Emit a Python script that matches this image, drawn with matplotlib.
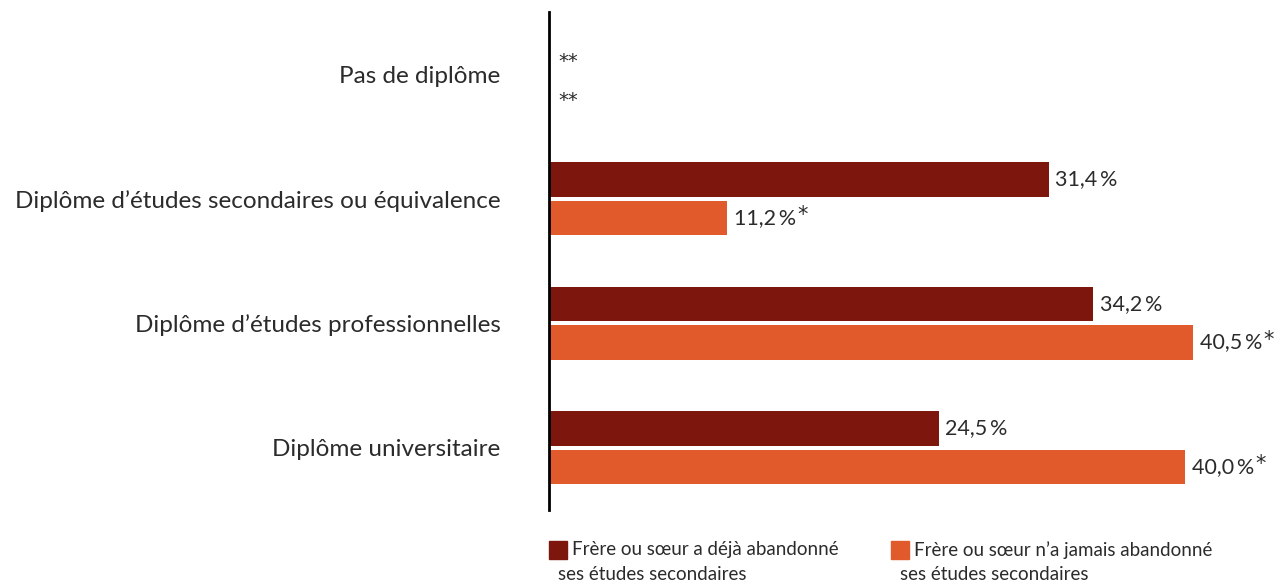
import matplotlib
matplotlib.use("Agg")
import matplotlib.pyplot as plt
from matplotlib.patches import Rectangle

categories = ["Pas de diplôme",
              "Diplôme d\u2019études secondaires ou équivalence",
              "Diplôme d\u2019études professionnelles",
              "Diplôme universitaire"]
deja = [None, 31.4, 34.2, 24.5]
jamais = [None, 11.2, 40.5, 40.0]
deja_labels = ["**", "31,4\u2009%", "34,2\u2009%", "24,5\u2009%"]
jamais_labels = ["**", "11,2\u2009%", "40,5\u2009%", "40,0\u2009%"]
jamais_star = [False, True, True, True]
legend_labels = ["Frère ou sœur a déjà abandonné\nses études secondaires",
                 "Frère ou sœur n\u2019a jamais abandonné\nses études secondaires"]

c_dark = "#7D160D"
c_orange = "#E05A2B"
txt = "#2b2b2b"
plt.rcParams['font.family'] = ['Lato', 'DejaVu Sans']

fig = plt.figure(figsize=(12.78, 5.84), dpi=100)
ax = fig.add_axes([549/1278, 1-510/584, (1265-549)/1278, 498/584])
ax.set_xlim(0, 45)
ax.set_ylim(3.5, -0.5)

off = 0.155
h = 0.28
for i, cat in enumerate(categories):
    if deja[i] is not None:
        ax.barh(i - off, deja[i], height=h, color=c_dark)
        ax.text(deja[i] + 0.4, i - off, deja_labels[i], va='center', ha='left',
                fontsize=15.5, color=txt)
    else:
        ax.annotate(deja_labels[i], xy=(0.6, i - off), xytext=(0, -5), textcoords='offset points',
                    va='center', ha='left', fontsize=14, color=txt, family='DejaVu Sans')
    if jamais[i] is not None:
        ax.barh(i + off, jamais[i], height=h, color=c_orange)
        t = ax.text(jamais[i] + 0.4, i + off, jamais_labels[i], va='center', ha='left',
                    fontsize=15.5, color=txt)
        if jamais_star[i]:
            ax.annotate("*", xy=(1, 0.5), xycoords=t, xytext=(1, 2), textcoords='offset points',
                        va='center', ha='left', fontsize=15, color=txt, family='DejaVu Sans')
    else:
        ax.annotate(jamais_labels[i], xy=(0.6, i + off), xytext=(0, -5), textcoords='offset points',
                    va='center', ha='left', fontsize=14, color=txt, family='DejaVu Sans')

ax.set_yticks(range(len(categories)))
ax.set_yticklabels(categories, fontsize=17.5, color=txt)
ax.tick_params(axis='y', length=0, pad=35)
ax.set_xticks([])
for s in ['top', 'right', 'bottom']:
    ax.spines[s].set_visible(False)
ax.spines['left'].set_linewidth(2)
ax.spines['left'].set_color('black')

# legend
for (x0, col, lab) in [(549, c_dark, legend_labels[0]), (891, c_orange, legend_labels[1])]:
    fig.patches.append(Rectangle((x0/1278, 1-559/584), 18/1278, 18/584,
                                 transform=fig.transFigure, color=col))
    first, second = lab.split("\n")
    fig.text((x0+23)/1278, 1-550/584, first, va='center', ha='left', fontsize=13.5,
             color=txt)
    fig.text((x0+9)/1278, 1-574/584, second, va='center', ha='left', fontsize=13.5,
             color=txt)

fig.savefig("out.png", dpi=100)
